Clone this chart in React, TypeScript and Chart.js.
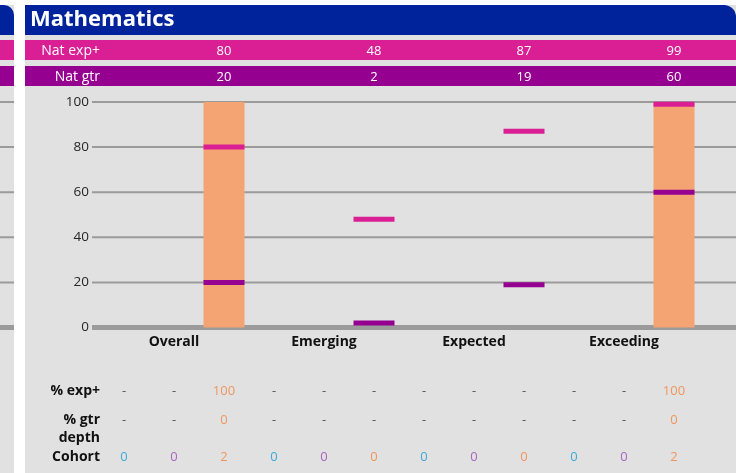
import { useEffect, useRef, useState } from 'react';
import { Chart, registerables } from 'chart.js';

Chart.register(...registerables);

// ---------- data ----------
const title = 'Mathematics';
const categories = ['Overall', 'Emerging', 'Expected', 'Exceeding'];
const yTicks = [0, 20, 40, 60, 80, 100];

// three groups per category (cyan, purple, orange); only orange has pupils
const cyanValues: (number | null)[] = [null, null, null, null];
const purpleValues: (number | null)[] = [null, null, null, null];
const orangeValues: (number | null)[] = [100, 0, 0, 100];

const natExp = [80, 48, 87, 99];
const natGtr = [20, 2, 19, 60];

const pctExpCyan: (number | null)[] = [null, null, null, null];
const pctExpPurple: (number | null)[] = [null, null, null, null];
const pctExpOrange: (number | null)[] = [100, null, null, 100];

const pctGtrCyan: (number | null)[] = [null, null, null, null];
const pctGtrPurple: (number | null)[] = [null, null, null, null];
const pctGtrOrange: (number | null)[] = [0, null, null, 0];

const cohortCyan = [0, 0, 0, 0];
const cohortPurple = [0, 0, 0, 0];
const cohortOrange = [2, 0, 0, 2];

// ---------- styles ----------
const FONT = "'Open Sans', sans-serif";
const BLUE = '#00239C';
const PINK = '#DA1E93';
const PURPLE = '#960090';
const BG = '#E1E1E1';
const GRID = '#9B9B9B';
const BAR = '#F4A373';
const C_CYAN = '#3FAAD5';
const C_PURPLE = '#A866BE';
const C_ORANGE = '#F0955E';
const DASH = '#555555';
const MARK = 1.1;

const gridPlugin = {
  id: 'customGrid',
  beforeDatasetsDraw(chart: any) {
    const { ctx, chartArea, width } = chart;
    const y = chart.scales.y;
    ctx.save();
    ctx.strokeStyle = GRID;
    yTicks.forEach((v) => {
      const py = y.getPixelForValue(v);
      ctx.lineWidth = v === 0 ? 5 : 2;
      ctx.beginPath();
      ctx.moveTo(0, py);
      ctx.lineTo(14, py);
      ctx.moveTo(chartArea.left - 7, py);
      ctx.lineTo(width, py);
      ctx.stroke();
    });
    ctx.restore();
  },
};

function Txt(props: {
  x: number;
  y: number;
  text: string;
  color: string;
  size?: number;
  bold?: boolean;
  align?: 'center' | 'right' | 'left';
}) {
  const { x, y, text, color, size = 13, bold = false, align = 'center' } = props;
  const w = 120;
  const left = align === 'center' ? x - w / 2 : align === 'right' ? x - w : x;
  return (
    <div
      style={{
        position: 'absolute',
        left,
        top: y - 9,
        width: w,
        height: 18,
        lineHeight: '18px',
        textAlign: align,
        fontFamily: FONT,
        fontSize: size,
        fontWeight: bold ? 700 : 400,
        color,
        whiteSpace: 'nowrap',
      }}
    >
      {text}
    </div>
  );
}

export default function App() {
  const ref = useRef<HTMLCanvasElement>(null);
  const [cols, setCols] = useState<number[]>([]);

  useEffect(() => {
    document.body.style.margin = '0';
    const chart = new Chart(ref.current as HTMLCanvasElement, {
      type: 'bar',
      data: {
        labels: categories,
        datasets: [
          { label: 'cyan', data: cyanValues, backgroundColor: C_CYAN, stack: 'a', order: 0 },
          { label: 'purple', data: purpleValues, backgroundColor: C_PURPLE, stack: 'b', order: 0 },
          { label: 'pupils', data: orangeValues, backgroundColor: BAR, stack: 'c', order: 1 },
          {
            label: 'Nat exp+',
            data: natExp.map((v) => [v - MARK, v + MARK]) as any,
            backgroundColor: PINK,
            stack: 'c',
            order: 0,
          },
          {
            label: 'Nat gtr',
            data: natGtr.map((v) => [v - MARK, v + MARK]) as any,
            backgroundColor: PURPLE,
            stack: 'c',
            order: 0,
          },
        ] as any,
      },
      options: {
        animation: false,
        responsive: false,
        devicePixelRatio: 1,
        layout: { padding: { left: 59, right: 37, top: 102, bottom: 115.5 } },
        datasets: {
          bar: {
            categoryPercentage: 1,
            barPercentage: 0.82,
            inflateAmount: 0,
            borderWidth: 0,
            clip: false as any,
          },
        },
        plugins: { legend: { display: false }, tooltip: { enabled: false } },
        scales: {
          x: {
            grid: { display: false, drawTicks: false, tickLength: 0 },
            border: { display: false },
            ticks: {
              color: '#111111',
              font: { family: FONT, size: 14, weight: 'bold' },
              padding: 6,
            },
            afterFit: (s: any) => {
              s.height = 30;
            },
          },
          y: {
            min: 0,
            max: 100,
            stacked: false,
            grid: { display: false, drawTicks: false, tickLength: 0 },
            border: { display: false },
            ticks: {
              stepSize: 20,
              color: '#262626',
              font: { family: FONT, size: 13.5 },
              padding: 10,
            },
            afterFit: (s: any) => {
              s.width = 40;
            },
          },
        },
      },
      plugins: [gridPlugin],
    });
    const xs = chart.scales.x;
    const step = (xs.getPixelForValue(1) - xs.getPixelForValue(0)) / 3;
    const c: number[] = [];
    categories.forEach((_, i) => {
      const m = xs.getPixelForValue(i);
      c.push(m - step, m, m + step);
    });
    setCols(c);
    return () => chart.destroy();
  }, []);

  const colOf = (cat: number, grp: number) => cols[cat * 3 + grp];
  const fmt = (v: number | null) => (v === null ? '-' : String(v));
  const groupColors = [C_CYAN, C_PURPLE, C_ORANGE];
  const pctExp = [pctExpCyan, pctExpPurple, pctExpOrange];
  const pctGtr = [pctGtrCyan, pctGtrPurple, pctGtrOrange];
  const cohort = [cohortCyan, cohortPurple, cohortOrange];

  const cells: any[] = [];
  if (cols.length) {
    categories.forEach((_, ci) => {
      [0, 1, 2].forEach((g) => {
        const x = colOf(ci, g);
        const e = pctExp[g][ci];
        const t = pctGtr[g][ci];
        cells.push(
          <Txt key={`e${ci}${g}`} x={x} y={390} text={fmt(e)} color={e === null ? DASH : groupColors[g]} />,
          <Txt key={`t${ci}${g}`} x={x} y={419} text={fmt(t)} color={t === null ? DASH : groupColors[g]} />,
          <Txt key={`c${ci}${g}`} x={x} y={456} text={String(cohort[g][ci])} color={groupColors[g]} />
        );
      });
      cells.push(
        <Txt key={`ne${ci}`} x={colOf(ci, 2)} y={50} text={String(natExp[ci])} color="#ffffff" />,
        <Txt key={`ng${ci}`} x={colOf(ci, 2)} y={76} text={String(natGtr[ci])} color="#ffffff" />
      );
    });
  }

  const box = (left: number, top: number, width: number, height: number, bg: string, extra: any = {}) => (
    <div style={{ position: 'absolute', left, top, width, height, background: bg, ...extra }} />
  );

  return (
    <div
      style={{
        position: 'absolute',
        left: 0,
        top: 0,
        width: 736,
        height: 473,
        background: '#ffffff',
        overflow: 'hidden',
        fontFamily: FONT,
      }}
    >
      {/* neighbouring panel strip */}
      {box(0, 5, 14, 468, BG)}
      {box(0, 5, 14, 30, BLUE, { borderTopRightRadius: 10 })}
      {box(0, 40, 14, 20, PINK)}
      {box(0, 66, 14, 20, PURPLE)}
      {/* main panel */}
      {box(25, 5, 711, 468, BG)}
      {box(25, 5, 711, 30, BLUE, { borderTopRightRadius: 12 })}
      {box(25, 40, 711, 20, PINK)}
      {box(25, 66, 711, 20, PURPLE)}
      <canvas
        ref={ref}
        width={736}
        height={473}
        style={{ position: 'absolute', left: 0, top: 0, width: 736, height: 473 }}
      />
      <div
        style={{
          position: 'absolute',
          left: 30,
          top: 2,
          height: 30,
          lineHeight: '30px',
          color: '#ffffff',
          fontFamily: FONT,
          fontWeight: 700,
          fontSize: 22,
          whiteSpace: 'nowrap',
        }}
      >
        {title}
      </div>
      <Txt x={100} y={50} text="Nat exp+" color="#ffffff" size={14} align="right" />
      <Txt x={100} y={76} text="Nat gtr" color="#ffffff" size={14} align="right" />
      <Txt x={100} y={390} text="% exp+" color="#111111" size={14} bold align="right" />
      <Txt x={100} y={419} text="% gtr" color="#111111" size={14} bold align="right" />
      <Txt x={100} y={437} text="depth" color="#111111" size={14} bold align="right" />
      <Txt x={100} y={456} text="Cohort" color="#111111" size={14} bold align="right" />
      {cells}
    </div>
  );
}
